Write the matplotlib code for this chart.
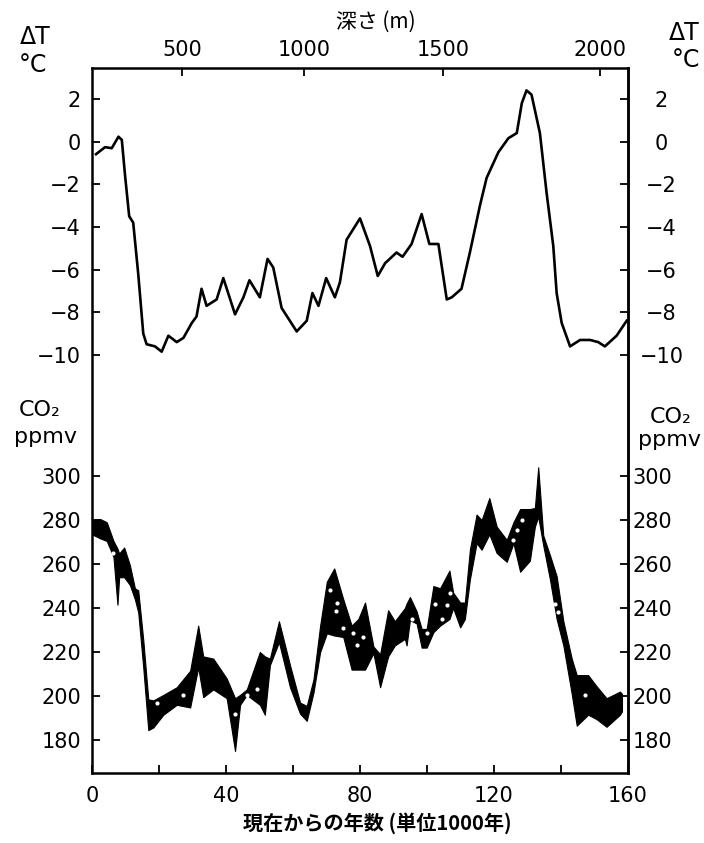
import matplotlib.pyplot as plt
import numpy as np

# Temperature record (age in 1000 yr, delta T in degC)
age_t = [1.2, 3.9, 5.9, 7.9, 8.9, 9.9, 11.1, 12.3, 13.8, 15.3, 16.3, 18.8, 20.8,
         22.8, 25.3, 27.3, 29.8, 31.2, 32.7, 34.2, 37.2, 39.2, 42.7, 45.2, 47.0,
         50.1, 52.4, 54.1, 56.6, 61.1, 64.1, 65.8, 67.6, 69.9, 72.5, 74.0, 76.0,
         78.0, 80.0, 83.0, 85.3, 87.5, 90.9, 92.7, 95.4, 98.4, 100.7, 103.4,
         105.9, 107.4, 110.3, 112.8, 115.8, 117.8, 121.3, 124.3, 126.8, 128.3,
         129.7, 131.2, 133.7, 135.7, 137.7, 138.7, 140.2, 142.7, 145.7, 148.7,
         151.1, 153.1, 156.6, 159.6]
delta_t = [-0.59, -0.26, -0.31, 0.23, 0.08, -1.64, -3.5, -3.8, -6.2, -9.0, -9.5,
           -9.6, -9.85, -9.1, -9.4, -9.2, -8.5, -8.2, -6.9, -7.7, -7.4, -6.4, -8.1,
           -7.3, -6.5, -7.3, -5.5, -5.9, -7.8, -8.9, -8.4, -7.1, -7.7, -6.4, -7.3,
           -6.6, -4.6, -4.1, -3.6, -4.9, -6.3, -5.7, -5.2, -5.4, -4.8, -3.4, -4.8,
           -4.8, -7.4, -7.3, -6.9, -5.2, -3.0, -1.7, -0.5, 0.16, 0.4, 1.8, 2.4,
           2.2, 0.4, -2.4, -4.9, -7.1, -8.5, -9.6, -9.3, -9.3, -9.4, -9.6, -9.1,
           -8.4]

# CO2 envelope (upper / lower ppmv)
age_c = [0.0, 2.4, 4.4, 6.4, 7.6, 8.1, 9.6, 11.3, 12.8, 13.8, 15.3, 16.8, 18.3,
         21.3, 25.3, 29.3, 31.7, 33.2, 36.2, 40.2, 42.7, 44.2, 46.2, 50.1, 51.6,
         53.1, 55.8, 59.1, 62.1, 64.1, 66.1, 68.1, 70.1, 72.3, 75.0, 77.5, 79.5,
         81.5, 84.0, 86.0, 88.4, 90.4, 93.4, 93.9, 94.9, 96.9, 98.4, 99.9, 101.9,
         103.9, 106.7, 107.8, 109.9, 111.3, 112.8, 114.8, 116.3, 118.6, 120.8,
         123.8, 125.8, 127.8, 130.7, 132.2, 133.2, 134.7, 136.7, 138.7, 140.7,
         143.2, 144.7, 148.1, 150.6, 153.6, 157.6, 158.2]
co2_hi = [280, 280.5, 279, 270.5, 267, 264.8, 267.5, 259.5, 249, 248, 225.5, 198.5,
          198, 200.5, 204, 211.5, 232, 218, 217, 208, 199, 200.5, 203, 220, 218,
          217, 234, 214, 197, 195.5, 207.5, 232, 252, 258, 244, 232, 235, 242.5,
          222.5, 219, 239, 234, 240, 242, 245, 238.5, 230.5, 230.5, 250, 249, 257,
          247, 242.5, 242.5, 266.5, 282.5, 280, 290, 277, 271, 279, 285, 285,
          285.5, 304, 273, 264, 254.5, 234, 217, 209.5, 209.5, 204.5, 199, 202, 201]
co2_lo = [273.5, 271.7, 270.5, 263.3, 241.5, 254, 254, 250.5, 244, 238, 213, 184.5,
          185.7, 191.5, 196, 194.8, 213, 199.5, 203, 199, 175, 196, 200.5, 196,
          191.5, 214, 224.5, 204, 192, 188.7, 201.5, 220, 228.5, 227.5, 226.8, 212,
          212, 212, 219.5, 204, 218, 223, 226, 223, 234.5, 233, 222, 222, 229, 232,
          235, 240, 231.2, 235, 253, 269.5, 266.5, 273.5, 265, 261, 269.5, 256.5,
          261.5, 277, 281.5, 268.5, 253, 235, 223, 201, 186.5, 191.5, 189.5, 186,
          191.5, 193]

# individual samples showing as white dots inside the band
dot_age = [6.4, 19.3, 27.3, 42.7, 46.2, 49.2, 71.0, 73.0, 72.8, 75.0, 78.0, 79.0,
           81.0, 95.4, 99.9, 102.4, 105.9, 106.9, 104.4, 126.8, 125.8, 128.3,
           138.2, 139.2, 147.2]
dot_co2 = [264.8, 197, 200.5, 191.8, 200.5, 203, 248, 242.5, 238.5, 231, 228.5,
           223, 227, 235, 228.5, 242, 241.5, 247, 235, 275.5, 271, 280, 242, 238,
           200.5]

# axis ticks
age_ticks = [0, 40, 80, 120, 160]
age_minor = [20, 60, 100, 140]
depth_m = [500, 1000, 1500, 2000]
depth_age = [26.9, 63.3, 104.8, 151.6]
dt_ticks = [2, 0, -2, -4, -6, -8, -10]
co2_ticks = [180, 200, 220, 240, 260, 280, 300]

W, H = 704, 843
jp = ['Noto Sans CJK JP', 'DejaVu Sans']
plt.rcParams['font.family'] = ['DejaVu Sans']

fig = plt.figure(figsize=(W / 100, H / 100), dpi=100)
rect = [92 / W, 1 - 773 / H, (628 - 92) / W, (773 - 68) / H]

# CO2 axes (owns the frame and the bottom axis)
ax_c = fig.add_axes(rect)
ax_c.fill_between(age_c, co2_lo, co2_hi, color='black', lw=0.8, edgecolor='black')
ax_c.scatter(dot_age, dot_co2, s=9, color='white', zorder=3, linewidths=0)
ax_c.set_xlim(0, 160)
ax_c.set_ylim(165, 485.5)
ax_c.set_xticks(age_ticks)
ax_c.set_xticks(age_minor, minor=True)
ax_c.set_yticks(co2_ticks)
ax_c.tick_params(axis='both', which='both', direction='in', length=6, width=1.3,
                 labelsize=15)
ax_c.tick_params(axis='x', which='both', top=False, pad=9)
ax_c.tick_params(axis='y', pad=8)
for s in ax_c.spines.values():
    s.set_linewidth(1.8)

sec_c = ax_c.secondary_yaxis('right')
sec_c.set_yticks(co2_ticks)
sec_c.tick_params(direction='in', length=6, width=1.3, labelsize=15, pad=3.5)
sec_c.spines['right'].set_linewidth(1.8)

# temperature axes laid over the same frame
ax_t = fig.add_axes(rect)
ax_t.patch.set_visible(False)
for s in ax_t.spines.values():
    s.set_visible(False)
ax_t.plot(age_t, delta_t, color='black', lw=1.9, solid_joinstyle='round')
ax_t.set_xlim(0, 160)
ax_t.set_ylim(-29.6, 3.45)
ax_t.set_yticks(dt_ticks)
ax_t.xaxis.set_ticks_position('top')
ax_t.set_xticks(depth_age, labels=[str(d) for d in depth_m])
ax_t.tick_params(axis='both', direction='in', length=6, width=1.3, labelsize=15)
ax_t.tick_params(axis='x', pad=6)
ax_t.tick_params(axis='y', pad=8)

sec_t = ax_t.secondary_yaxis('right')
sec_t.set_yticks(dt_ticks)
sec_t.spines['right'].set_visible(False)
sec_t.tick_params(direction='in', length=6, width=1.3, labelsize=15, pad=24)
for lab in sec_t.get_yticklabels():
    lab.set_horizontalalignment('center')

# axis captions
fig.text(376 / W, 1 - 22 / H, '深さ (m)', family=jp, fontsize=15,
         ha='center', va='center')
fig.text(377 / W, 1 - 823 / H, '現在からの年数 (単位1000年)', family=jp,
         fontsize=14.5, fontweight='bold', ha='center', va='center')
fig.text(35 / W, 1 - 37 / H, 'ΔT', fontsize=17, ha='center', va='center')
fig.text(33 / W, 1 - 65 / H, '°C', fontsize=17, ha='center', va='center')
fig.text(684 / W, 1 - 33 / H, 'ΔT', fontsize=17, ha='center', va='center')
fig.text(686 / W, 1 - 60 / H, '°C', fontsize=17, ha='center', va='center')
fig.text(40 / W, 1 - 410 / H, 'CO₂', fontsize=16, ha='center', va='center')
fig.text(46 / W, 1 - 437 / H, 'ppmv', fontsize=16, ha='center', va='center')
fig.text(671 / W, 1 - 417 / H, 'CO₂', fontsize=16, ha='center', va='center')
fig.text(670 / W, 1 - 440 / H, 'ppmv', fontsize=16, ha='center', va='center')

fig.savefig('out.png', dpi=100)
